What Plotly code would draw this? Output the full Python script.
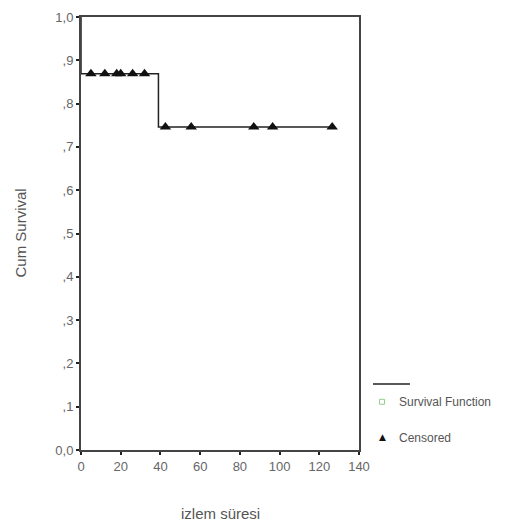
import plotly.graph_objects as go

# Survival step function
step_times = [0, 0, 39, 127]
step_surv = [1.0, 0.869, 0.746, 0.746]

# Censored observations
cens_times = [5, 12, 18, 20, 26, 32, 42.5, 55.5, 87, 96.5, 126.5]
cens_surv = [0.869] * 6 + [0.746] * 5

x_ticks = [0, 20, 40, 60, 80, 100, 120, 140]
y_ticks = [0.0, 0.1, 0.2, 0.3, 0.4, 0.5, 0.6, 0.7, 0.8, 0.9, 1.0]
y_ticklabels = ["0,0", ",1", ",2", ",3", ",4", ",5", ",6", ",7", ",8", ",9", "1,0"]

fig = go.Figure()
fig.add_trace(go.Scatter(x=step_times, y=step_surv, mode="lines", line_shape="hv",
                         line=dict(color="#222222", width=1.5), name="Survival Function",
                         showlegend=False, cliponaxis=False))
fig.add_trace(go.Scatter(x=cens_times, y=cens_surv, mode="markers",
                         marker=dict(symbol="triangle-up", size=10, color="#111111"),
                         name="Censored", showlegend=False, cliponaxis=False))

axis_common = dict(showgrid=False, zeroline=False, showline=True, linecolor="#444444",
                   linewidth=2, mirror=True, ticks="outside", ticklen=3, tickwidth=2,
                   tickcolor="#222222",
                   tickfont=dict(family="Liberation Sans, Arial", size=13, color="#666666"))

W, H = 521, 531
L, R, T, B = 81, 162, 10, 81
pw, ph = W - L - R, H - T - B

fig.update_layout(
    width=W, height=H,
    margin=dict(l=L, r=R, t=T, b=B),
    paper_bgcolor="white", plot_bgcolor="white",
    xaxis=dict(range=[0, 140], tickvals=x_ticks, **axis_common),
    yaxis=dict(range=[0, 1.0], tickvals=y_ticks, ticktext=y_ticklabels, **axis_common),
    showlegend=False,
)

def px2paper(px, py):
    return (px - L) / pw, (H - B - py) / ph

font_txt = dict(family="Liberation Sans, Arial", size=15, color="#555555")

def add_text(text, px, py, font, xanchor="center", angle=0):
    x, y = px2paper(px, py)
    fig.add_annotation(text=text, x=x, y=y, xref="paper", yref="paper",
                       showarrow=False, xanchor=xanchor, yanchor="middle",
                       textangle=angle, font=font)

# Axis titles
add_text("Cum Survival", 20, 230, font_txt, angle=-90)
add_text("izlem süresi", 220, 515, font_txt)

# Custom SPSS-style legend
lx0, ly = px2paper(373, 383)
lx1, _ = px2paper(410, 383)
fig.add_shape(type="line", xref="paper", yref="paper", x0=lx0, x1=lx1, y0=ly, y1=ly,
              line=dict(color="#222222", width=1.5))
sx, sy = px2paper(382, 401)
fig.add_shape(type="rect", xref="paper", yref="paper",
              x0=sx - 2.5 / pw, x1=sx + 2.5 / pw, y0=sy - 2.5 / ph, y1=sy + 2.5 / ph,
              line=dict(color="#8fd08f", width=1), fillcolor="white")
leg_font = dict(family="Liberation Sans, Arial", size=12, color="#555555")
add_text("Survival Function", 397, 401, leg_font, xanchor="left")
add_text("▲", 382, 437, dict(family="DejaVu Sans", size=9, color="#111111"))
add_text("Censored", 397, 438, leg_font, xanchor="left")

fig.write_html("out.html", config={"displayModeBar": False},
               post_script="document.body.style.margin='0';")
